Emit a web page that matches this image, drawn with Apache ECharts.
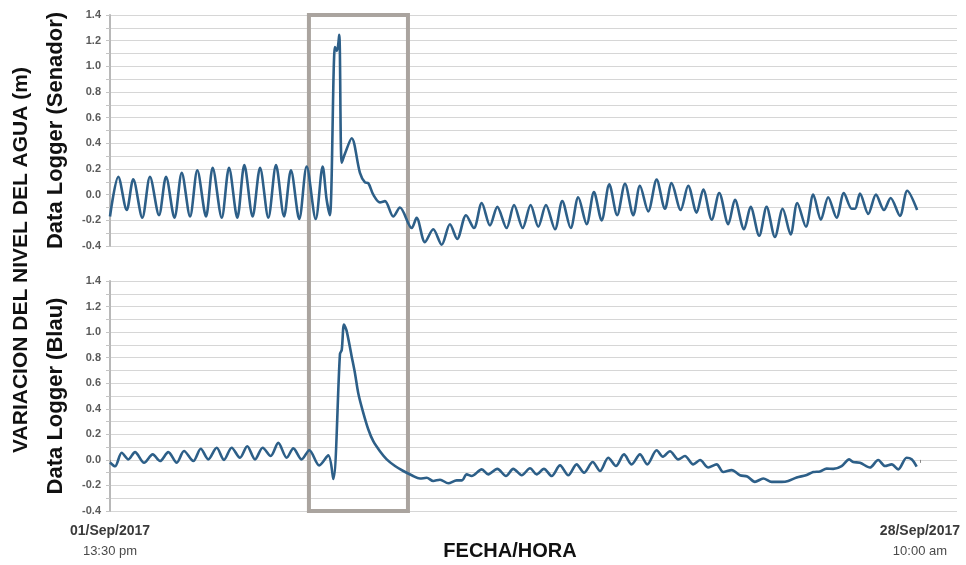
<!DOCTYPE html>
<html>
<head>
<meta charset="utf-8">
<script src="https://cdn.jsdelivr.net/npm/echarts@6/dist/echarts.min.js"></script>
<style>
html,body{margin:0;padding:0;background:#fff;}
#chart{width:966px;height:565px;}
</style>
</head>
<body>
<div id="chart"></div>
<script>
// Hours elapsed since 01/Sep/2017 13:30 and water-level variation (m)
const senadorHours = [0,6.6,13.3,18.5,25.7,31.8,39.0,44.6,51.3,57.1,63.7,69.5,76.4,81.7,88.9,94.7,101.3,106.9,113.5,119.4,126.0,132.1,138.5,144.0,150.6,156.5,163.7,169.2,172.4,175.0,179.0,180.6,182.4,184.4,187.0,192.3,198.9,202.9,205.5,209.5,214.8,218.8,225.4,230.7,240.1,244.0,250.6,257.2,263.9,270.5,276.3,283.3,289.6,295.8,302.4,308.2,315.6,321.5,328.4,334.7,340.8,346.9,354.1,359.9,366.6,372.6,379.3,385.1,391.2,397.3,403.6,409.8,416.4,421.7,428.3,435.0,441.6,446.9,454.1,460.1,466.8,472.1,478.8,484.8,492.0,497.3,504.5,509.8,516.6,522.5,529.1,535.3,541.6,546.9,553.8,559.6,565.7,571.5,578.2,584.0,590.2,592.8,596.8,603.4,609.5,615.9,621.2,628.6,634.4,642.3];
const senadorLevel = [-0.17,0.14,-0.12,0.12,-0.18,0.14,-0.16,0.14,-0.18,0.17,-0.17,0.19,-0.17,0.21,-0.18,0.21,-0.18,0.23,-0.17,0.21,-0.18,0.23,-0.17,0.19,-0.19,0.22,-0.19,0.22,-0.04,-0.16,1.15,1.12,1.245,0.25,0.32,0.44,0.17,0.095,0.09,0.0,-0.06,-0.05,-0.17,-0.10,-0.26,-0.18,-0.37,-0.27,-0.39,-0.23,-0.345,-0.16,-0.26,-0.065,-0.24,-0.095,-0.26,-0.08,-0.26,-0.08,-0.25,-0.08,-0.27,-0.05,-0.26,-0.02,-0.23,0.02,-0.20,0.08,-0.16,0.085,-0.16,0.07,-0.13,0.117,-0.11,0.09,-0.12,0.07,-0.14,0.04,-0.195,0.013,-0.23,-0.04,-0.27,-0.095,-0.32,-0.095,-0.33,-0.11,-0.31,-0.065,-0.25,0.0,-0.195,-0.02,-0.18,0.013,-0.11,-0.11,0.008,-0.15,0.0,-0.12,-0.026,-0.165,0.03,-0.12];

const blauHours = [0,4.0,9.3,14.6,19.9,27.1,34.0,39.8,46.4,53.1,58.9,66.3,72.2,78.2,84.9,90.7,96.8,103.4,109.2,115.4,121.5,127.9,133.9,140.6,145.9,152.5,158.6,166.5,173.7,177.7,183.0,184.4,186.2,188.3,192.3,194.9,197.6,201.5,205.5,209.5,214.8,220.2,226.8,233.4,240.1,246.7,252.0,257.2,262.6,269.2,275.9,280.1,283.8,287.8,295.8,301.0,308.2,315.1,320.9,327.6,334.2,339.5,345.3,351.5,358.1,364.7,371.3,377.2,384.1,389.9,396.5,402.6,409.0,415.1,421.7,427.5,435.0,440.0,445.6,452.2,457.5,464.1,469.5,476.1,482.7,488.0,494.7,501.3,507.1,513.2,519.8,526.5,534.5,539.7,546.4,553.8,559.6,565.0,570.3,575.5,582.2,588.2,591.4,596.8,604.7,611.3,616.7,622.0,627.2,633.9,637.9,641.9];
const blauLevel = [-0.02,-0.05,0.056,0.004,0.061,-0.022,0.043,-0.009,0.061,-0.022,0.069,-0.009,0.087,0.004,0.095,0.0,0.095,0.017,0.107,0.004,0.095,0.03,0.133,0.017,0.09,0.004,0.076,-0.043,0.035,-0.15,0.83,0.86,1.06,1.01,0.81,0.68,0.52,0.37,0.24,0.146,0.068,0.004,-0.048,-0.087,-0.12,-0.146,-0.14,-0.165,-0.155,-0.183,-0.16,-0.16,-0.113,-0.126,-0.074,-0.113,-0.07,-0.126,-0.07,-0.12,-0.066,-0.113,-0.07,-0.126,-0.043,-0.12,-0.035,-0.1,-0.017,-0.087,0.017,-0.048,0.043,-0.035,0.043,-0.035,0.076,0.025,0.068,0.004,0.03,-0.035,-0.001,-0.06,-0.035,-0.095,-0.08,-0.12,-0.13,-0.172,-0.146,-0.172,-0.172,-0.165,-0.138,-0.12,-0.095,-0.09,-0.068,-0.07,-0.048,0.004,-0.017,-0.022,-0.06,-0.001,-0.048,-0.035,-0.074,0.017,0.005,-0.053];

const xTickHours = [0, 644.5];
const xTickDates = ['01/Sep/2017', '28/Sep/2017'];
const xTickTimes = ['13:30 pm', '10:00 am'];
const xAxisMaxHours = 674;
const yMin = -0.4, yMax = 1.4, yStep = 0.2;
const boxHours = [158.3, 237.1];

const FONT = '"Liberation Sans", Arial, sans-serif';
const lineColor = '#2d5f88';
const gridColor = '#d6d6d6';

const chart = echarts.init(document.getElementById('chart'), null, {renderer: 'canvas'});

function pairs(xs, ys){ return xs.map((h,i)=>[h, ys[i]]); }

function yAxisCfg(gridIndex){
  return {
    type: 'value', gridIndex, min: yMin, max: yMax, interval: yStep,
    axisLine: {show: true, lineStyle: {color: '#b8b8b8', width: 2}},
    axisTick: {show: true, length: 4, lineStyle: {color: '#c4c4c4'}},
    minorTick: {show: true, splitNumber: 2, length: 4, lineStyle: {color: '#c4c4c4'}},
    splitLine: {show: true, lineStyle: {color: gridColor, width: 1.2}},
    minorSplitLine: {show: true, lineStyle: {color: gridColor, width: 1.2}},
    axisLabel: {
      margin: 9, color: '#5a5a5a', fontFamily: FONT, fontWeight: 'bold', fontSize: 11,
      formatter: v => v.toFixed(1)
    }
  };
}

const option = {
  backgroundColor: '#ffffff',
  animation: false,
  grid: [
    {left: 110, right: 9, top: 15, height: 231},
    {left: 110, right: 9, top: 281, height: 230}
  ],
  xAxis: [
    {type: 'value', gridIndex: 0, min: 0, max: xAxisMaxHours,
     axisLine: {show: false}, axisTick: {show: false}, axisLabel: {show: false}, splitLine: {show: false}},
    {type: 'value', gridIndex: 1, min: 0, max: xAxisMaxHours,
     axisLine: {show: false}, splitLine: {show: false},
     axisTick: {show: true, customValues: xTickHours, length: 3, lineStyle: {color: '#888'}},
     axisLabel: {
       customValues: xTickHours, margin: 10, fontFamily: FONT, lineHeight: 21,
       formatter: function(v){
         const i = xTickHours.indexOf(v);
         if (i < 0) return '';
         return '{d|' + xTickDates[i] + '}\n{t|' + xTickTimes[i] + '}';
       },
       rich: {
         d: {fontFamily: FONT, fontWeight: 'bold', fontSize: 14, color: '#3a3a3a', lineHeight: 20},
         t: {fontFamily: FONT, fontSize: 13, color: '#4a4a4a', lineHeight: 20}
       }
     }}
  ],
  yAxis: [yAxisCfg(0), yAxisCfg(1)],
  series: [
    {name: 'Senador', type: 'line', xAxisIndex: 0, yAxisIndex: 0,
     data: pairs(senadorHours, senadorLevel), showSymbol: false, smooth: 0.3,
     lineStyle: {color: lineColor, width: 2.6}, z: 3},
    {name: 'Blau', type: 'line', xAxisIndex: 1, yAxisIndex: 1,
     data: pairs(blauHours, blauLevel), showSymbol: false, smooth: 0.3,
     lineStyle: {color: lineColor, width: 2.6}, z: 3}
  ],
  graphic: []
};
chart.setOption(option);

// Titles and the highlight box, positioned through the axes
const bx1 = chart.convertToPixel({xAxisIndex: 0}, boxHours[0]);
const bx2 = chart.convertToPixel({xAxisIndex: 0}, boxHours[1]);
const by1 = chart.convertToPixel({yAxisIndex: 0}, yMax);
const by2 = chart.convertToPixel({yAxisIndex: 1}, yMin);
const topMid = (chart.convertToPixel({yAxisIndex: 0}, yMax) + chart.convertToPixel({yAxisIndex: 0}, yMin)) / 2;
const botMid = (chart.convertToPixel({yAxisIndex: 1}, yMax) + chart.convertToPixel({yAxisIndex: 1}, yMin)) / 2;

function vtext(txt, cx, cy, size){
  return {type: 'text', x: cx, y: cy, rotation: Math.PI/2, z: 10,
    style: {text: txt, font: 'bold ' + size + 'px ' + FONT, fill: '#111', align: 'center', verticalAlign: 'middle'}};
}

chart.setOption({
  graphic: [
    {type: 'rect', z: 1, shape: {x: bx1, y: by1, width: bx2 - bx1, height: by2 - by1},
     style: {fill: 'none', stroke: '#aaa49f', lineWidth: 4}},
    vtext('VARIACION DEL NIVEL DEL AGUA (m)', 21, 260, 21),
    vtext('Data Logger (Senador)', 56, topMid, 22),
    vtext('Data Logger (Blau)', 56, botMid, 22),
    {type: 'text', x: 510, y: 551, z: 10,
     style: {text: 'FECHA/HORA', font: 'bold 20px ' + FONT, fill: '#111', align: 'center', verticalAlign: 'middle'}}
  ]
});
</script>
</body>
</html>
